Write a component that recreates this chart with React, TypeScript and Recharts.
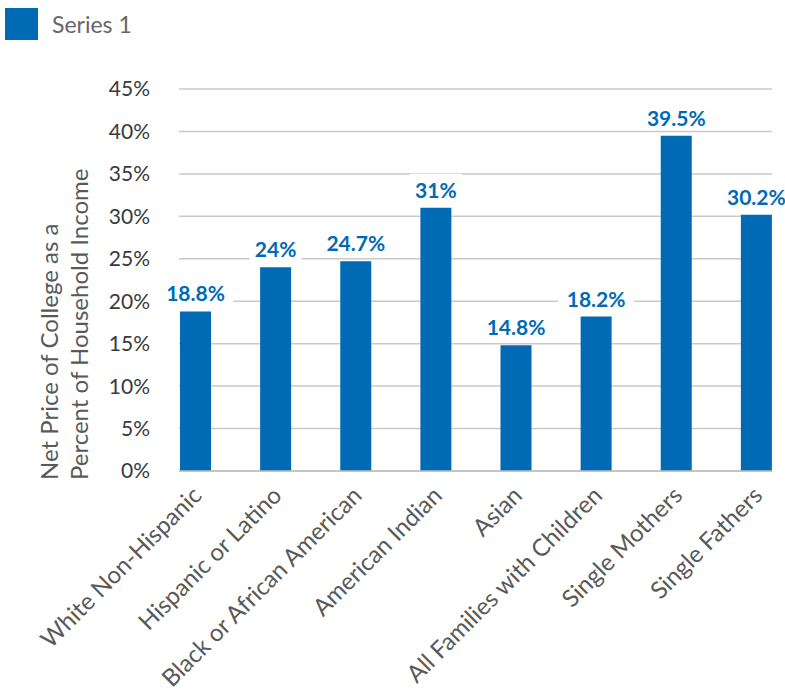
import { Bar, BarChart, CartesianGrid, LabelList, Legend, XAxis, YAxis } from "recharts";

const categories = [
  "White Non-Hispanic",
  "Hispanic or Latino",
  "Black or African American",
  "American Indian",
  "Asian",
  "All Families with Children",
  "Single Mothers",
  "Single Fathers",
];
const series1 = [18.8, 24, 24.7, 31, 14.8, 18.2, 39.5, 30.2];
const yTicks = [0, 5, 10, 15, 20, 25, 30, 35, 40, 45];

const data = categories.map((name, i) => ({ name, value: series1[i] }));

const BLUE = "#006ab4";
const FONT = "Lato, 'Open Sans', sans-serif";

function BarValueLabel(props: any) {
  const x = Number(props.x);
  const y = Number(props.y);
  const width = Number(props.width);
  const text = `${props.value}%`;
  const cx = x + width / 2;
  const w = text.length * 12 + 16;
  return (
    <g>
      <rect x={cx - w / 2} y={y - 34} width={w} height={28} fill="#ffffff" />
      <text
        x={cx}
        y={y - 10}
        textAnchor="middle"
        fill={BLUE}
        fontSize={21}
        fontWeight={700}
        fontFamily={FONT}
      >
        {text}
      </text>
    </g>
  );
}

function CategoryTick(props: any) {
  const { x, y, payload } = props;
  return (
    <g transform={`translate(${x + 8},${y + 24})`}>
      <text
        textAnchor="end"
        transform="rotate(-45)"
        fill="#595959"
        fontSize={24}
        fontFamily={FONT}
      >
        {payload.value}
      </text>
    </g>
  );
}

function AxisTitle() {
  return (
    <g fill="#595959" fontSize={24} fontFamily={FONT}>
      <text transform="translate(58,480) rotate(-90)" textAnchor="start">
        Net Price of College as a
      </text>
      <text transform="translate(88,480) rotate(-90)" textAnchor="start">
        Percent of Household Income
      </text>
    </g>
  );
}

function LegendBox() {
  return (
    <div style={{ display: "flex", alignItems: "center", fontFamily: FONT, height: 32 }}>
      <div style={{ width: 33, height: 32, background: BLUE }} />
      <span style={{ marginLeft: 14, fontSize: 23, color: "#666666" }}>Series 1</span>
    </div>
  );
}

export default function App() {
  return (
    <div style={{ position: "absolute", left: 0, top: 0, width: 785, height: 691, background: "#fff" }}>
      <BarChart
        width={785}
        height={691}
        data={data}
        margin={{ top: 57, right: 13, bottom: 20, left: 0 }}
      >
        <Legend
          verticalAlign="top"
          align="left"
          content={() => <LegendBox />}
          wrapperStyle={{ top: 8, left: 5, width: "auto", height: 32 }}
        />
        <CartesianGrid vertical={false} stroke="#c9c9c9" strokeWidth={1.5} />
        <XAxis
          dataKey="name"
          interval={0}
          height={200}
          tickLine={false}
          tickSize={0}
          axisLine={{ stroke: "#bfbfbf", strokeWidth: 1.5 }}
          padding={{ left: -24, right: -24 }}
          tick={<CategoryTick />}
        />
        <YAxis
          width={179}
          domain={[0, 45]}
          ticks={yTicks}
          interval={0}
          axisLine={false}
          tickLine={false}
          tickSize={0}
          tickMargin={29}
          tickFormatter={(v: number) => `${v}%`}
          tick={{ fill: "#3a3a3a", fontSize: 21, fontFamily: FONT }}
          label={{ content: () => <AxisTitle /> }}
        />
        <Bar dataKey="value" name="Series 1" fill={BLUE} barSize={31} isAnimationActive={false}>
          <LabelList dataKey="value" content={<BarValueLabel />} />
        </Bar>
      </BarChart>
    </div>
  );
}
